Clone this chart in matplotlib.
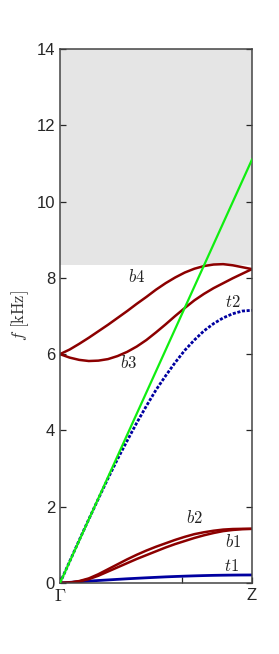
import numpy as np
import matplotlib.pyplot as plt

plt.rcParams['mathtext.fontset'] = 'cm'

# %% data (k from Gamma to Z)
k = np.linspace(0, np.pi, 21)

t1 = [0, 0.016, 0.033, 0.049, 0.065, 0.080, 0.095, 0.110, 0.123, 0.136, 0.148,
      0.160, 0.170, 0.179, 0.187, 0.194, 0.200, 0.204, 0.207, 0.209, 0.21]
t2 = [0, 0.56, 1.12, 1.67, 2.21, 2.74, 3.25, 3.73, 4.20, 4.64, 5.06,
      5.43, 5.78, 6.10, 6.37, 6.61, 6.80, 6.95, 7.06, 7.13, 7.15]
b1 = [0, 0.01, 0.04, 0.10, 0.19, 0.30, 0.41, 0.52, 0.63, 0.73, 0.83,
      0.93, 1.02, 1.10, 1.18, 1.25, 1.31, 1.36, 1.39, 1.41, 1.42]
b2 = [0, 0.01, 0.05, 0.12, 0.23, 0.36, 0.49, 0.62, 0.74, 0.85, 0.95,
      1.04, 1.13, 1.21, 1.28, 1.33, 1.37, 1.40, 1.415, 1.42, 1.42]
b3 = [6.0, 5.91, 5.85, 5.82, 5.83, 5.87, 5.95, 6.06, 6.20, 6.37, 6.57,
      6.78, 7.00, 7.21, 7.41, 7.58, 7.73, 7.86, 7.99, 8.11, 8.23]
b4 = [6.0, 6.12, 6.27, 6.43, 6.60, 6.77, 6.95, 7.13, 7.32, 7.50, 7.69,
      7.86, 8.01, 8.14, 8.24, 8.31, 8.35, 8.36, 8.33, 8.28, 8.23]

# sound line and cut-off of the gray zone
k_line = [0, np.pi]
f_line = [0, 11.1]
f_cut = 8.35
f_max = 14

# branch labels: (text, k, f)
labels = [('b4', 1.25, 8.02), ('b3', 1.12, 5.78), ('t2', 2.83, 7.37),
          ('b2', 2.20, 1.70), ('b1', 2.83, 1.08), ('t1', 2.81, 0.45)]

red = '#8c0000'
blue = '#0000a0'
green = '#10ee10'

# %% plot
fig = plt.figure(figsize=(2.79, 6.54), dpi=100)
ax = fig.add_axes([0.215, 0.1086, 0.688, 0.8164])

ax.axhspan(f_cut, f_max, color='#e5e5e5', zorder=0, lw=0)

ax.plot(k_line, f_line, color=green, lw=1.6, zorder=3)
ax.plot(k, t1, color=blue, lw=2.0, zorder=2)
ax.plot(k, t2, color=blue, lw=2.0, ls=(0, (1.1, 0.6)), zorder=2)
for b in [b1, b2, b3, b4]:
    ax.plot(k, b, color=red, lw=1.8, zorder=2)

for txt, xk, yf in labels:
    ax.text(xk, yf, '$' + txt + '$', fontsize=12, ha='center', va='center', color='#222222')

ax.set_xlim(0, np.pi)
ax.set_ylim(0, f_max)
ax.set_yticks(np.arange(0, 15, 2))
ax.set_xticks([0, 2, np.pi])
ax.set_xticklabels([r'$\Gamma$', '', 'Z'])
ax.tick_params(direction='in', length=4, width=0.9, colors='#262626',
               labelsize=12, right=True, labelcolor='#262626')
for lab in ax.get_yticklabels() + ax.get_xticklabels():
    lab.set_fontfamily('Liberation Sans')
ax.get_xticklabels()[0].set_fontsize(13)

for s in ax.spines.values():
    s.set_color('#444444')
    s.set_linewidth(1.1)

ax.set_ylabel(r'$f\ \mathrm{[kHz]}$', fontsize=12, color='#333333', labelpad=4)

fig.savefig('out.png', dpi=100)
